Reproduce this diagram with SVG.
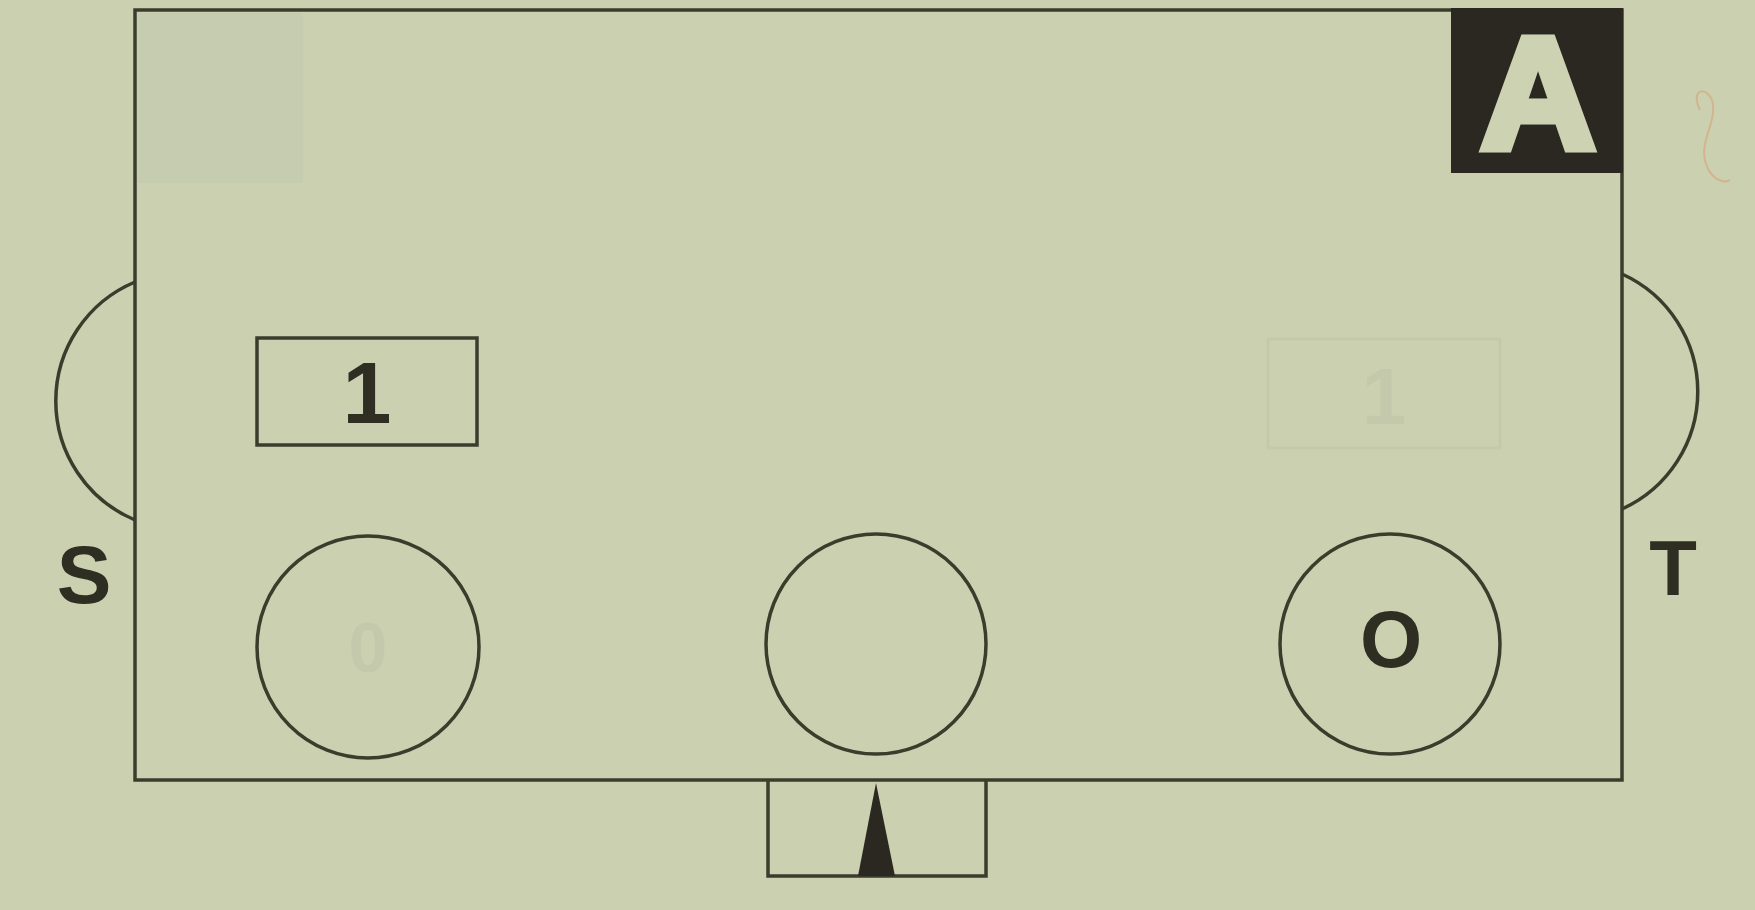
<svg xmlns="http://www.w3.org/2000/svg" width="1755" height="910" viewBox="0 0 1755 910">
<style>
.ln{fill:none;stroke:#3b3d2c;stroke-width:3.5}
.lbl{font-family:"Liberation Sans",Arial,sans-serif;font-weight:bold;fill:#2e2f22;text-anchor:middle}
.ghost{fill:none;stroke:#c3c9aa;stroke-width:3}
.gtxt{font-family:"Liberation Sans",Arial,sans-serif;font-weight:bold;fill:#c3c9aa;text-anchor:middle}
</style>
<rect width="1755" height="910" fill="#cbd1b0"/>
<rect x="138" y="13" width="165" height="170" fill="#c6ccb0"/>
<g id="panel">
<rect class="ln" x="135" y="10" width="1487" height="770"/>
</g>
<g id="badge-A">
<rect x="1451" y="8" width="172" height="165" fill="#2b2822"/>
<text x="1538" y="148" font-size="158" font-family="'Liberation Sans',Arial,sans-serif" font-weight="bold" text-anchor="middle" fill="#ccd2b2" stroke="#ccd2b2" stroke-width="9" stroke-linejoin="miter">A</text>
</g>
<g id="port-S">
<path class="ln" d="M135,282 A129,129 0 0 0 135,520"/>
<text class="lbl" x="84" y="603" font-size="82">S</text>
</g>
<g id="port-T">
<path class="ln" d="M1622,274 A129,129 0 0 1 1622,509"/>
<text class="lbl" x="1673" y="595" font-size="78">T</text>
</g>
<g id="box-1">
<rect class="ln" x="257" y="338" width="220" height="107"/>
<text class="lbl" x="367" y="423" font-size="88">1</text>
</g>
<g id="ghost-box">
<rect class="ghost" x="1268" y="339" width="232" height="109"/>
<text class="gtxt" x="1384" y="424" font-size="80">1</text>
</g>
<g id="circle-left">
<circle class="ln" cx="368" cy="647" r="111"/>
<text class="gtxt" x="368" y="672" font-size="70">0</text>
</g>
<g id="circle-middle">
<circle class="ln" cx="876" cy="644" r="110"/>
</g>
<g id="circle-right">
<circle class="ln" cx="1390" cy="644" r="110"/>
<text class="lbl" x="1391" y="667" font-size="80">O</text>
</g>
<g id="bottom-box">
<path class="ln" d="M768,780 V876 H986 V780"/>
<polygon points="876,783 858,876 895,876" fill="#2b2822"/>
</g>
<g id="connectors"></g>
<path d="M1700,110 C1690,90 1705,85 1712,100 C1718,120 1700,140 1705,160 C1708,175 1720,185 1730,180" fill="none" stroke="#d2b58f" stroke-width="2"/>
</svg>
